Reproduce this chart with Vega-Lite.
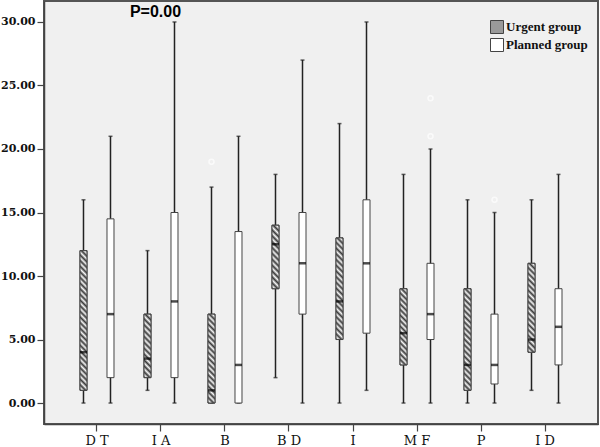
{
  "$schema": "https://vega.github.io/schema/vega-lite/v6.json",
  "width": 554,
  "height": 423,
  "autosize": {"type": "none"},
  "padding": {"left": 44, "top": 1, "right": 2, "bottom": 23},
  "background": "white",
  "config": {
    "view": {"fill": "#f0f0f0", "stroke": "#555555", "strokeWidth": 2},
    "axis": {"domainColor": "#444444", "domainWidth": 1.5, "tickColor": "#444444", "tickWidth": 1.2, "grid": false, "title": null}
  },
  "datasets": {
    "stats": [
      {"cat": "D T", "group": "Urgent group", "min": 0, "q1": 1, "med": 4, "q3": 12, "max": 16},
      {"cat": "D T", "group": "Planned group", "min": 0, "q1": 2, "med": 7, "q3": 14.5, "max": 21},
      {"cat": "I A", "group": "Urgent group", "min": 1, "q1": 2, "med": 3.5, "q3": 7, "max": 12},
      {"cat": "I A", "group": "Planned group", "min": 0, "q1": 2, "med": 8, "q3": 15, "max": 30},
      {"cat": "B", "group": "Urgent group", "min": 0, "q1": 0, "med": 1, "q3": 7, "max": 17},
      {"cat": "B", "group": "Planned group", "min": 0, "q1": 0, "med": 3, "q3": 13.5, "max": 21},
      {"cat": "B D", "group": "Urgent group", "min": 2, "q1": 9, "med": 12.5, "q3": 14, "max": 18},
      {"cat": "B D", "group": "Planned group", "min": 0, "q1": 7, "med": 11, "q3": 15, "max": 27},
      {"cat": "I", "group": "Urgent group", "min": 0, "q1": 5, "med": 8, "q3": 13, "max": 22},
      {"cat": "I", "group": "Planned group", "min": 1, "q1": 5.5, "med": 11, "q3": 16, "max": 30},
      {"cat": "M F", "group": "Urgent group", "min": 0, "q1": 3, "med": 5.5, "q3": 9, "max": 18},
      {"cat": "M F", "group": "Planned group", "min": 0, "q1": 5, "med": 7, "q3": 11, "max": 20},
      {"cat": "P", "group": "Urgent group", "min": 0, "q1": 1, "med": 3, "q3": 9, "max": 16},
      {"cat": "P", "group": "Planned group", "min": 0, "q1": 1.5, "med": 3, "q3": 7, "max": 15},
      {"cat": "I D", "group": "Urgent group", "min": 1, "q1": 4, "med": 5, "q3": 11, "max": 16},
      {"cat": "I D", "group": "Planned group", "min": 0, "q1": 3, "med": 6, "q3": 9, "max": 18}
    ],
    "outliers": [
      {"cat": "B", "group": "Urgent group", "value": 19},
      {"cat": "M F", "group": "Planned group", "value": 21},
      {"cat": "M F", "group": "Planned group", "value": 24},
      {"cat": "P", "group": "Planned group", "value": 16}
    ],
    "notes": [
      {"cat": "I A", "y": 30.75, "label": "P=0.00"}
    ]
  },
  "encoding": {
    "x": {
      "field": "cat", "type": "nominal",
      "sort": ["D T", "I A", "B", "B D", "I", "M F", "P", "I D"],
      "scale": {"paddingInner": 0, "paddingOuter": 0.328},
      "axis": {"labelAngle": 0, "tickSize": 7, "labelPadding": 3, "labelFont": "DejaVu Serif", "labelFontSize": 13, "labelColor": "#111111"}
    }
  },
  "layer": [
    {
      "data": {"name": "stats"},
      "mark": {"type": "rule", "color": "#222222", "strokeWidth": 1.5},
      "encoding": {
        "xOffset": {"field": "group", "sort": ["Urgent group", "Planned group"], "scale": {"paddingInner": 0, "paddingOuter": 0.185}},
        "y": {"field": "min", "type": "quantitative",
          "scale": {"domain": [-1.65, 31.65], "nice": false, "zero": false},
          "axis": {"values": [0, 5, 10, 15, 20, 25, 30], "format": ".2f", "tickSize": 7, "labelPadding": 2, "labelFont": "DejaVu Serif", "labelFontWeight": "bold", "labelFontSize": 11, "labelColor": "#111111"}},
        "y2": {"field": "max"}
      }
    },
    {
      "data": {"name": "stats"},
      "mark": {"type": "tick", "color": "#222222", "size": 4, "thickness": 1.5},
      "encoding": {
        "xOffset": {"field": "group", "sort": ["Urgent group", "Planned group"]},
        "y": {"field": "min", "type": "quantitative"}
      }
    },
    {
      "data": {"name": "stats"},
      "mark": {"type": "tick", "color": "#222222", "size": 4, "thickness": 1.5},
      "encoding": {
        "xOffset": {"field": "group", "sort": ["Urgent group", "Planned group"]},
        "y": {"field": "max", "type": "quantitative"}
      }
    },
    {
      "data": {"name": "stats"},
      "mark": {"type": "bar", "width": 7, "stroke": "#444444", "strokeWidth": 1},
      "encoding": {
        "xOffset": {"field": "group", "sort": ["Urgent group", "Planned group"]},
        "y": {"field": "q1", "type": "quantitative"},
        "y2": {"field": "q3"},
        "fill": {
          "field": "group", "type": "nominal",
          "scale": {"domain": ["Urgent group", "Planned group"], "range": ["#9a9a9a", "#ffffff"]},
          "legend": {"title": null, "orient": "none", "legendX": 446, "legendY": 19, "symbolType": "square", "symbolSize": 169, "symbolStrokeColor": "#444444", "symbolStrokeWidth": 1, "symbolOpacity": 1, "labelFont": "Liberation Serif", "labelFontWeight": "bold", "labelFontSize": 13, "labelColor": "#111111", "rowPadding": 0, "labelOffset": 2,
            "encode": {"symbols": {"update": {
              "stroke": {"value": "#444444"},
              "strokeWidth": {"value": 1},
              "opacity": {"value": 1},
              "fill": [
              {"test": "datum.label == 'Urgent group'", "value": {"gradient": "linear", "x1": 0, "y1": 1, "x2": 1, "y2": 0, "stops": [
                {"offset": 0, "color": "#3a3a3a"}, {"offset": 0.1, "color": "#f5f5f5"}, {"offset": 0.2, "color": "#3a3a3a"}, {"offset": 0.3, "color": "#f5f5f5"}, {"offset": 0.4, "color": "#3a3a3a"}, {"offset": 0.5, "color": "#f5f5f5"}, {"offset": 0.6, "color": "#3a3a3a"}, {"offset": 0.7, "color": "#f5f5f5"}, {"offset": 0.8, "color": "#3a3a3a"}, {"offset": 0.9, "color": "#f5f5f5"}, {"offset": 1, "color": "#3a3a3a"}]}},
              {"value": "#ffffff"}]}}}}
        }
      }
    },
    {
      "data": {"name": "stats"},
      "transform": [{"filter": "datum.group == 'Urgent group' && datum.q3 - datum.q1 == 5"}],
      "mark": {"type": "bar", "width": 7, "stroke": "#444444", "strokeWidth": 1,
        "fill": {"gradient": "linear", "x1": 0, "y1": 1, "x2": 0.1209, "y2": -0.0969, "stops": [
          {"offset": 0, "color": "#3a3a3a"}, {"offset": 0.0417, "color": "#f5f5f5"}, {"offset": 0.0833, "color": "#3a3a3a"}, {"offset": 0.125, "color": "#f5f5f5"}, {"offset": 0.1667, "color": "#3a3a3a"}, {"offset": 0.2083, "color": "#f5f5f5"}, {"offset": 0.25, "color": "#3a3a3a"}, {"offset": 0.2917, "color": "#f5f5f5"}, {"offset": 0.3333, "color": "#3a3a3a"}, {"offset": 0.375, "color": "#f5f5f5"}, {"offset": 0.4167, "color": "#3a3a3a"}, {"offset": 0.4583, "color": "#f5f5f5"}, {"offset": 0.5, "color": "#3a3a3a"}, {"offset": 0.5417, "color": "#f5f5f5"}, {"offset": 0.5833, "color": "#3a3a3a"}, {"offset": 0.625, "color": "#f5f5f5"}, {"offset": 0.6667, "color": "#3a3a3a"}, {"offset": 0.7083, "color": "#f5f5f5"}, {"offset": 0.75, "color": "#3a3a3a"}, {"offset": 0.7917, "color": "#f5f5f5"}, {"offset": 0.8333, "color": "#3a3a3a"}, {"offset": 0.875, "color": "#f5f5f5"}, {"offset": 0.9167, "color": "#3a3a3a"}, {"offset": 0.9583, "color": "#f5f5f5"}, {"offset": 1, "color": "#3a3a3a"}]}},
      "encoding": {
        "xOffset": {"field": "group", "sort": ["Urgent group", "Planned group"]},
        "y": {"field": "q1", "type": "quantitative"},
        "y2": {"field": "q3"}
      }
    },
    {
      "data": {"name": "stats"},
      "transform": [{"filter": "datum.group == 'Urgent group' && datum.q3 - datum.q1 == 6"}],
      "mark": {"type": "bar", "width": 7, "stroke": "#444444", "strokeWidth": 1,
        "fill": {"gradient": "linear", "x1": 0, "y1": 1, "x2": 0.0994, "y2": -0.0827, "stops": [
          {"offset": 0, "color": "#3a3a3a"}, {"offset": 0.0333, "color": "#f5f5f5"}, {"offset": 0.0667, "color": "#3a3a3a"}, {"offset": 0.1, "color": "#f5f5f5"}, {"offset": 0.1333, "color": "#3a3a3a"}, {"offset": 0.1667, "color": "#f5f5f5"}, {"offset": 0.2, "color": "#3a3a3a"}, {"offset": 0.2333, "color": "#f5f5f5"}, {"offset": 0.2667, "color": "#3a3a3a"}, {"offset": 0.3, "color": "#f5f5f5"}, {"offset": 0.3333, "color": "#3a3a3a"}, {"offset": 0.3667, "color": "#f5f5f5"}, {"offset": 0.4, "color": "#3a3a3a"}, {"offset": 0.4333, "color": "#f5f5f5"}, {"offset": 0.4667, "color": "#3a3a3a"}, {"offset": 0.5, "color": "#f5f5f5"}, {"offset": 0.5333, "color": "#3a3a3a"}, {"offset": 0.5667, "color": "#f5f5f5"}, {"offset": 0.6, "color": "#3a3a3a"}, {"offset": 0.6333, "color": "#f5f5f5"}, {"offset": 0.6667, "color": "#3a3a3a"}, {"offset": 0.7, "color": "#f5f5f5"}, {"offset": 0.7333, "color": "#3a3a3a"}, {"offset": 0.7667, "color": "#f5f5f5"}, {"offset": 0.8, "color": "#3a3a3a"}, {"offset": 0.8333, "color": "#f5f5f5"}, {"offset": 0.8667, "color": "#3a3a3a"}, {"offset": 0.9, "color": "#f5f5f5"}, {"offset": 0.9333, "color": "#3a3a3a"}, {"offset": 0.9667, "color": "#f5f5f5"}, {"offset": 1, "color": "#3a3a3a"}]}},
      "encoding": {
        "xOffset": {"field": "group", "sort": ["Urgent group", "Planned group"]},
        "y": {"field": "q1", "type": "quantitative"},
        "y2": {"field": "q3"}
      }
    },
    {
      "data": {"name": "stats"},
      "transform": [{"filter": "datum.group == 'Urgent group' && datum.q3 - datum.q1 == 7"}],
      "mark": {"type": "bar", "width": 7, "stroke": "#444444", "strokeWidth": 1,
        "fill": {"gradient": "linear", "x1": 0, "y1": 1, "x2": 0.0844, "y2": -0.0721, "stops": [
          {"offset": 0, "color": "#3a3a3a"}, {"offset": 0.0294, "color": "#f5f5f5"}, {"offset": 0.0588, "color": "#3a3a3a"}, {"offset": 0.0882, "color": "#f5f5f5"}, {"offset": 0.1176, "color": "#3a3a3a"}, {"offset": 0.1471, "color": "#f5f5f5"}, {"offset": 0.1765, "color": "#3a3a3a"}, {"offset": 0.2059, "color": "#f5f5f5"}, {"offset": 0.2353, "color": "#3a3a3a"}, {"offset": 0.2647, "color": "#f5f5f5"}, {"offset": 0.2941, "color": "#3a3a3a"}, {"offset": 0.3235, "color": "#f5f5f5"}, {"offset": 0.3529, "color": "#3a3a3a"}, {"offset": 0.3824, "color": "#f5f5f5"}, {"offset": 0.4118, "color": "#3a3a3a"}, {"offset": 0.4412, "color": "#f5f5f5"}, {"offset": 0.4706, "color": "#3a3a3a"}, {"offset": 0.5, "color": "#f5f5f5"}, {"offset": 0.5294, "color": "#3a3a3a"}, {"offset": 0.5588, "color": "#f5f5f5"}, {"offset": 0.5882, "color": "#3a3a3a"}, {"offset": 0.6176, "color": "#f5f5f5"}, {"offset": 0.6471, "color": "#3a3a3a"}, {"offset": 0.6765, "color": "#f5f5f5"}, {"offset": 0.7059, "color": "#3a3a3a"}, {"offset": 0.7353, "color": "#f5f5f5"}, {"offset": 0.7647, "color": "#3a3a3a"}, {"offset": 0.7941, "color": "#f5f5f5"}, {"offset": 0.8235, "color": "#3a3a3a"}, {"offset": 0.8529, "color": "#f5f5f5"}, {"offset": 0.8824, "color": "#3a3a3a"}, {"offset": 0.9118, "color": "#f5f5f5"}, {"offset": 0.9412, "color": "#3a3a3a"}, {"offset": 0.9706, "color": "#f5f5f5"}, {"offset": 1, "color": "#3a3a3a"}]}},
      "encoding": {
        "xOffset": {"field": "group", "sort": ["Urgent group", "Planned group"]},
        "y": {"field": "q1", "type": "quantitative"},
        "y2": {"field": "q3"}
      }
    },
    {
      "data": {"name": "stats"},
      "transform": [{"filter": "datum.group == 'Urgent group' && datum.q3 - datum.q1 == 8"}],
      "mark": {"type": "bar", "width": 7, "stroke": "#444444", "strokeWidth": 1,
        "fill": {"gradient": "linear", "x1": 0, "y1": 1, "x2": 0.0733, "y2": -0.0639, "stops": [
          {"offset": 0, "color": "#3a3a3a"}, {"offset": 0.0263, "color": "#f5f5f5"}, {"offset": 0.0526, "color": "#3a3a3a"}, {"offset": 0.0789, "color": "#f5f5f5"}, {"offset": 0.1053, "color": "#3a3a3a"}, {"offset": 0.1316, "color": "#f5f5f5"}, {"offset": 0.1579, "color": "#3a3a3a"}, {"offset": 0.1842, "color": "#f5f5f5"}, {"offset": 0.2105, "color": "#3a3a3a"}, {"offset": 0.2368, "color": "#f5f5f5"}, {"offset": 0.2632, "color": "#3a3a3a"}, {"offset": 0.2895, "color": "#f5f5f5"}, {"offset": 0.3158, "color": "#3a3a3a"}, {"offset": 0.3421, "color": "#f5f5f5"}, {"offset": 0.3684, "color": "#3a3a3a"}, {"offset": 0.3947, "color": "#f5f5f5"}, {"offset": 0.4211, "color": "#3a3a3a"}, {"offset": 0.4474, "color": "#f5f5f5"}, {"offset": 0.4737, "color": "#3a3a3a"}, {"offset": 0.5, "color": "#f5f5f5"}, {"offset": 0.5263, "color": "#3a3a3a"}, {"offset": 0.5526, "color": "#f5f5f5"}, {"offset": 0.5789, "color": "#3a3a3a"}, {"offset": 0.6053, "color": "#f5f5f5"}, {"offset": 0.6316, "color": "#3a3a3a"}, {"offset": 0.6579, "color": "#f5f5f5"}, {"offset": 0.6842, "color": "#3a3a3a"}, {"offset": 0.7105, "color": "#f5f5f5"}, {"offset": 0.7368, "color": "#3a3a3a"}, {"offset": 0.7632, "color": "#f5f5f5"}, {"offset": 0.7895, "color": "#3a3a3a"}, {"offset": 0.8158, "color": "#f5f5f5"}, {"offset": 0.8421, "color": "#3a3a3a"}, {"offset": 0.8684, "color": "#f5f5f5"}, {"offset": 0.8947, "color": "#3a3a3a"}, {"offset": 0.9211, "color": "#f5f5f5"}, {"offset": 0.9474, "color": "#3a3a3a"}, {"offset": 0.9737, "color": "#f5f5f5"}, {"offset": 1, "color": "#3a3a3a"}]}},
      "encoding": {
        "xOffset": {"field": "group", "sort": ["Urgent group", "Planned group"]},
        "y": {"field": "q1", "type": "quantitative"},
        "y2": {"field": "q3"}
      }
    },
    {
      "data": {"name": "stats"},
      "transform": [{"filter": "datum.group == 'Urgent group' && datum.q3 - datum.q1 == 11"}],
      "mark": {"type": "bar", "width": 7, "stroke": "#444444", "strokeWidth": 1,
        "fill": {"gradient": "linear", "x1": 0, "y1": 1, "x2": 0.0525, "y2": -0.0475, "stops": [
          {"offset": 0, "color": "#3a3a3a"}, {"offset": 0.0192, "color": "#f5f5f5"}, {"offset": 0.0385, "color": "#3a3a3a"}, {"offset": 0.0577, "color": "#f5f5f5"}, {"offset": 0.0769, "color": "#3a3a3a"}, {"offset": 0.0962, "color": "#f5f5f5"}, {"offset": 0.1154, "color": "#3a3a3a"}, {"offset": 0.1346, "color": "#f5f5f5"}, {"offset": 0.1538, "color": "#3a3a3a"}, {"offset": 0.1731, "color": "#f5f5f5"}, {"offset": 0.1923, "color": "#3a3a3a"}, {"offset": 0.2115, "color": "#f5f5f5"}, {"offset": 0.2308, "color": "#3a3a3a"}, {"offset": 0.25, "color": "#f5f5f5"}, {"offset": 0.2692, "color": "#3a3a3a"}, {"offset": 0.2885, "color": "#f5f5f5"}, {"offset": 0.3077, "color": "#3a3a3a"}, {"offset": 0.3269, "color": "#f5f5f5"}, {"offset": 0.3462, "color": "#3a3a3a"}, {"offset": 0.3654, "color": "#f5f5f5"}, {"offset": 0.3846, "color": "#3a3a3a"}, {"offset": 0.4038, "color": "#f5f5f5"}, {"offset": 0.4231, "color": "#3a3a3a"}, {"offset": 0.4423, "color": "#f5f5f5"}, {"offset": 0.4615, "color": "#3a3a3a"}, {"offset": 0.4808, "color": "#f5f5f5"}, {"offset": 0.5, "color": "#3a3a3a"}, {"offset": 0.5192, "color": "#f5f5f5"}, {"offset": 0.5385, "color": "#3a3a3a"}, {"offset": 0.5577, "color": "#f5f5f5"}, {"offset": 0.5769, "color": "#3a3a3a"}, {"offset": 0.5962, "color": "#f5f5f5"}, {"offset": 0.6154, "color": "#3a3a3a"}, {"offset": 0.6346, "color": "#f5f5f5"}, {"offset": 0.6538, "color": "#3a3a3a"}, {"offset": 0.6731, "color": "#f5f5f5"}, {"offset": 0.6923, "color": "#3a3a3a"}, {"offset": 0.7115, "color": "#f5f5f5"}, {"offset": 0.7308, "color": "#3a3a3a"}, {"offset": 0.75, "color": "#f5f5f5"}, {"offset": 0.7692, "color": "#3a3a3a"}, {"offset": 0.7885, "color": "#f5f5f5"}, {"offset": 0.8077, "color": "#3a3a3a"}, {"offset": 0.8269, "color": "#f5f5f5"}, {"offset": 0.8462, "color": "#3a3a3a"}, {"offset": 0.8654, "color": "#f5f5f5"}, {"offset": 0.8846, "color": "#3a3a3a"}, {"offset": 0.9038, "color": "#f5f5f5"}, {"offset": 0.9231, "color": "#3a3a3a"}, {"offset": 0.9423, "color": "#f5f5f5"}, {"offset": 0.9615, "color": "#3a3a3a"}, {"offset": 0.9808, "color": "#f5f5f5"}, {"offset": 1, "color": "#3a3a3a"}]}},
      "encoding": {
        "xOffset": {"field": "group", "sort": ["Urgent group", "Planned group"]},
        "y": {"field": "q1", "type": "quantitative"},
        "y2": {"field": "q3"}
      }
    },
    {
      "data": {"name": "stats"},
      "mark": {"type": "tick", "color": "#000000", "size": 7, "thickness": 2.5},
      "encoding": {
        "xOffset": {"field": "group", "sort": ["Urgent group", "Planned group"]},
        "y": {"field": "med", "type": "quantitative"}
      }
    },
    {
      "data": {"name": "outliers"},
      "mark": {"type": "point", "shape": "circle", "filled": false, "stroke": "#ffffff", "strokeWidth": 1.5, "size": 25},
      "encoding": {
        "xOffset": {"field": "group", "sort": ["Urgent group", "Planned group"]},
        "y": {"field": "value", "type": "quantitative"}
      }
    },
    {
      "data": {"name": "notes"},
      "mark": {"type": "text", "font": "Liberation Sans", "fontWeight": "bold", "fontSize": 16, "color": "#000000", "baseline": "middle", "align": "center", "dx": -5.5},
      "encoding": {
        "y": {"field": "y", "type": "quantitative"},
        "text": {"field": "label"}
      }
    }
  ]
}
